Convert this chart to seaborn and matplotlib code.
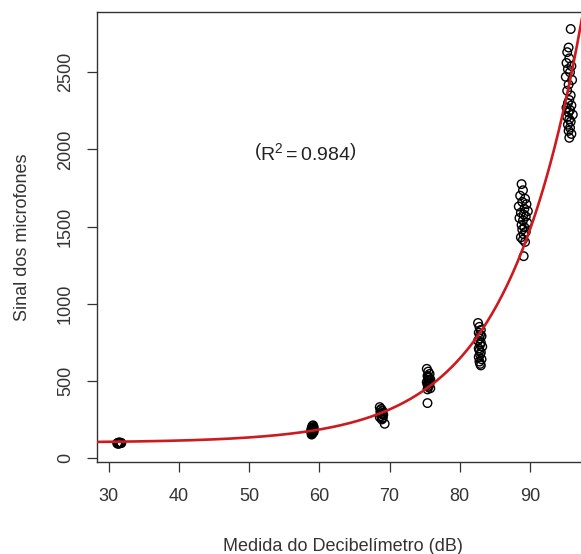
import numpy as np
import pandas as pd
import matplotlib
matplotlib.use("Agg")
import matplotlib.pyplot as plt
import seaborn as sns

# Sound level readings (dB) and microphone signal, grouped by measurement level
db_31 = [31.2, 31.4, 31.5, 31.6, 31.8, 31.3, 31.7, 31.5, 31.4, 31.6]
sig_31 = [96, 99, 94, 101, 97, 92, 98, 95, 100, 97]

db_59 = [58.9, 59.0, 59.1, 59.2, 58.8, 59.0, 59.1, 58.9, 59.2, 59.0, 59.1, 58.9, 59.0, 59.2, 59.1, 58.9, 59.0, 59.1]
sig_59 = [152, 158, 165, 170, 176, 182, 188, 194, 200, 207, 212, 160, 172, 185, 196, 168, 178, 190]

db_69 = [68.6, 68.8, 69.0, 68.7, 68.9, 69.1, 68.8, 68.6, 69.0, 68.9, 69.3, 68.7, 68.9, 69.0]
sig_69 = [330, 318, 305, 296, 288, 280, 272, 265, 258, 250, 222, 310, 285, 262]

db_75 = [75.3, 75.5, 75.7, 75.4, 75.6, 75.8, 75.5, 75.3, 75.7, 75.4, 75.6, 75.5, 75.8, 75.4, 75.6, 75.5, 75.7, 75.4]
sig_75 = [578, 560, 545, 532, 520, 510, 500, 492, 485, 476, 468, 460, 452, 445, 505, 525, 488, 356]

db_83 = [82.6, 82.8, 83.0, 82.7, 82.9, 83.1, 82.8, 82.6, 83.0, 82.9, 83.2, 82.7, 82.8, 83.0, 82.9, 82.7, 83.1, 82.8, 82.9, 83.0]
sig_83 = [875, 850, 830, 812, 800, 790, 775, 760, 748, 735, 722, 710, 698, 685, 670, 655, 640, 625, 610, 600]

db_89 = [88.8, 89.0, 88.6, 89.3, 88.9, 89.5, 88.4, 89.2, 89.7, 88.7, 89.1, 89.4, 88.5, 89.0, 89.6, 88.8, 89.2, 88.9, 89.4, 89.1, 88.7, 89.0, 89.3, 89.1]
sig_89 = [1775, 1735, 1700, 1680, 1660, 1645, 1630, 1615, 1600, 1590, 1578, 1565, 1555, 1540, 1525, 1510, 1495, 1480, 1465, 1450, 1430, 1415, 1400, 1308]

db_95 = [95.8, 95.5, 95.3, 95.6, 95.2, 95.9, 95.4, 95.7, 95.1, 96.0, 95.5, 95.3, 95.8, 95.6, 95.4, 95.9, 95.2, 95.7, 95.5, 96.1, 95.3, 95.6, 95.8, 95.4, 95.7, 95.5, 95.9, 95.6]
sig_95 = [2780, 2660, 2630, 2590, 2560, 2540, 2520, 2500, 2470, 2450, 2420, 2380, 2350, 2320, 2300, 2285, 2270, 2255, 2240, 2225, 2210, 2195, 2180, 2160, 2140, 2120, 2100, 2075]

# Exponential model: signal = a + b * exp(c * dB)
fit_a, fit_b, fit_c = 100.0, 0.32, 0.093
r_squared = 0.984

x_ticks = [30, 40, 50, 60, 70, 80, 90]
y_ticks = [0, 500, 1000, 1500, 2000, 2500]

df = pd.DataFrame({
    "db": db_31 + db_59 + db_69 + db_75 + db_83 + db_89 + db_95,
    "sinal": sig_31 + sig_59 + sig_69 + sig_75 + sig_83 + sig_89 + sig_95,
})

sns.set_style("white")
plt.rcParams["font.family"] = ["Liberation Sans", "DejaVu Sans"]
plt.rcParams["mathtext.fontset"] = "custom"
plt.rcParams["mathtext.rm"] = "Liberation Sans"
plt.rcParams["mathtext.it"] = "Liberation Sans"

fig = plt.figure(figsize=(5.81, 5.54), dpi=100)
ax = fig.add_axes([0.167, 0.166, 0.845, 0.812])

sns.scatterplot(data=df, x="db", y="sinal", ax=ax, marker="o", s=38,
                facecolor="none", edgecolor="black", linewidth=1.0, zorder=2)

xs = np.linspace(28.0, 99.0, 400)
curve = pd.DataFrame({"db": xs, "sinal": fit_a + fit_b * np.exp(fit_c * xs)})
sns.lineplot(data=curve, x="db", y="sinal", ax=ax, color="#cc1a1e", linewidth=1.9, zorder=3)

ax.text(57.96, 1975, r"$\left(\mathrm{R}^2 = %.3f\right)$" % r_squared,
        ha="center", va="center", fontsize=14, color="#222222")

ax.set_xlim(28.33, 98.26)
ax.set_ylim(-26, 2889)
ax.set_xticks(x_ticks)
ax.set_yticks(y_ticks)
ax.set_yticklabels([str(v) for v in y_ticks], rotation=90, va="center")

for side in ("left", "bottom", "top", "right"):
    ax.spines[side].set_color("#333333")
    ax.spines[side].set_linewidth(1.0)

ax.tick_params(axis="both", direction="out", length=7.5, width=0.9, color="#333333",
               labelsize=13, labelcolor="#333333", left=True, bottom=True)
ax.tick_params(axis="x", pad=11)
ax.tick_params(axis="y", pad=9)

ax.set_xlabel("Medida do Decibelímetro (dB)", fontsize=13, color="#333333", labelpad=24)
ax.set_ylabel("Sinal dos microfones", fontsize=13, color="#333333", labelpad=19)

fig.savefig("out.png", dpi=100, facecolor="white")
